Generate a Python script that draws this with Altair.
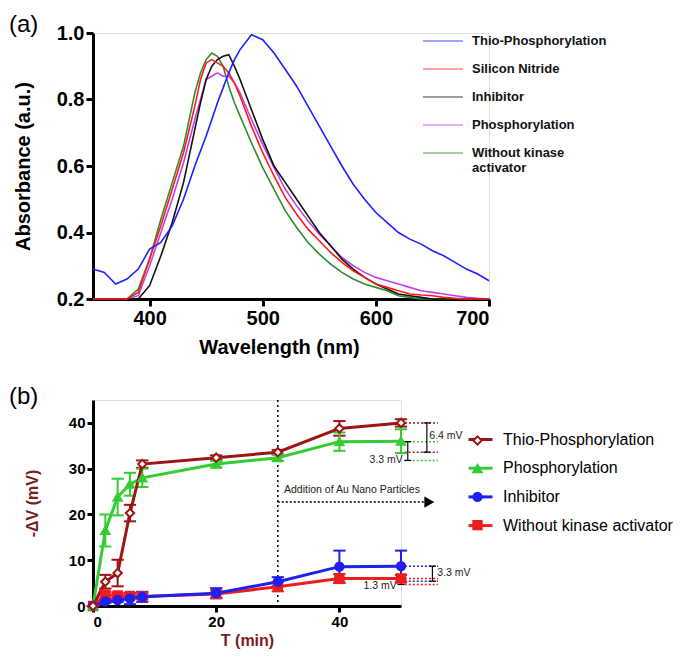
import altair as alt
import pandas as pd

FONT = "Liberation Sans"
TITLE_RED = "#7a1c1c"

# ---------------- panel (a): UV-vis spectra ----------------
wavelength = [350, 360, 370, 380, 390, 400, 410, 420, 430, 440,
              445, 450, 455, 460, 465, 470, 475,
              480, 490, 500, 510, 520, 530, 540, 550, 560, 570, 580, 590,
              600, 610, 620, 630, 640, 650, 660, 670, 680, 690, 700]

abs_thio = [0.29, 0.28, 0.245, 0.26, 0.29, 0.35, 0.37, 0.42, 0.50, 0.60,
            0.645, 0.69, 0.74, 0.79, 0.835, 0.88, 0.92,
            0.95, 0.995, 0.98, 0.94, 0.89, 0.84, 0.78, 0.72, 0.66, 0.60, 0.545, 0.50,
            0.46, 0.43, 0.40, 0.38, 0.365, 0.345, 0.33, 0.31, 0.29, 0.275, 0.255]
abs_sin = [0.2, 0.2, 0.2, 0.2, 0.22, 0.32, 0.42, 0.53, 0.64, 0.78,
           0.86, 0.91, 0.92, 0.91, 0.90, 0.88, 0.85,
           0.81, 0.72, 0.64, 0.57, 0.505, 0.455, 0.41, 0.375, 0.34, 0.31, 0.285, 0.265,
           0.245, 0.235, 0.225, 0.215, 0.212, 0.21, 0.205, 0.202, 0.2, 0.2, 0.2]
abs_inhib = [0.2, 0.2, 0.2, 0.2, 0.2, 0.24, 0.33, 0.43, 0.55, 0.71,
             0.79, 0.86, 0.90, 0.92, 0.93, 0.935, 0.90,
             0.86, 0.77, 0.68, 0.60, 0.55, 0.50, 0.45, 0.40, 0.36, 0.32, 0.29, 0.265,
             0.245, 0.23, 0.215, 0.21, 0.205, 0.2, 0.2, 0.2, 0.2, 0.2, 0.2]
abs_phos = [0.2, 0.2, 0.2, 0.2, 0.21, 0.30, 0.40, 0.50, 0.61, 0.74,
            0.80, 0.86, 0.87, 0.88, 0.87, 0.87, 0.85,
            0.82, 0.74, 0.665, 0.595, 0.53, 0.48, 0.435, 0.395, 0.36, 0.325, 0.30, 0.28,
            0.265, 0.255, 0.245, 0.235, 0.225, 0.22, 0.215, 0.21, 0.205, 0.202, 0.2]
abs_wok = [0.2, 0.2, 0.2, 0.2, 0.23, 0.32, 0.44, 0.55, 0.66, 0.82,
           0.88, 0.92, 0.94, 0.93, 0.90, 0.84, 0.79,
           0.75, 0.67, 0.595, 0.53, 0.465, 0.415, 0.37, 0.335, 0.305, 0.28, 0.26, 0.245,
           0.235, 0.225, 0.21, 0.205, 0.2, 0.2, 0.2, 0.2, 0.2, 0.2, 0.2]

names_a = ["Thio-Phosphorylation", "Silicon Nitride", "Inhibitor",
           "Phosphorylation", "Without kinase activator"]
colors_a = ["#1f1fff", "#ff1a1a", "#111111", "#c040f0", "#2e8b2e"]
series_a = [abs_thio, abs_sin, abs_inhib, abs_phos, abs_wok]

# ---------------- panel (b): potential vs time ----------------
time_min = [0, 2, 4, 6, 8, 20, 30, 40, 50]
dv_thio = [0, 5.3, 7.2, 20.3, 31.0, 32.4, 33.6, 38.8, 40.0]
err_thio = [0, 1.5, 2.9, 1.8, 0.8, 0.5, 0.5, 1.6, 0.8]
dv_phos = [0, 16.5, 23.8, 26.6, 28.0, 31.0, 32.4, 35.9, 36.0]
err_phos = [0, 3.5, 4.0, 2.5, 2.0, 0.7, 0.7, 2.0, 2.6]
dv_inhib = [0, 1.0, 1.3, 1.6, 2.0, 2.8, 5.3, 8.6, 8.7]
err_inhib = [0, 0.3, 0.4, 1.2, 1.1, 1.1, 1.0, 3.5, 3.4]
dv_wok = [0, 2.4, 2.3, 2.2, 2.1, 2.6, 4.2, 6.0, 6.0]
err_wok = [0, 0.7, 0.6, 0.5, 0.6, 0.8, 1.0, 1.0, 0.8]

names_b = ["Thio-Phosphorylation", "Phosphorylation", "Inhibitor", "Without kinase activator"]
marker_keys_b = ["m1", "m2", "m3", "m4"]
colors_b = ["#9e1414", "#33cc33", "#1f1fef", "#ee1d1d"]
shapes_b = ["diamond", "triangle-up", "circle", "square"]
fills_b = ["white", "#33cc33", "#1f1fef", "#ee1d1d"]
vals_b = [dv_thio, dv_phos, dv_inhib, dv_wok]
errs_b = [err_thio, err_phos, err_inhib, err_wok]

# annotations of panel (b)
event_time = [30]
arrow_y = [22.7]
arrow_from = [30]
arrow_to = [53.7]
arrow_head = [54.6]
event_text = ["Addition of Au Nano Particles"]
event_text_pos = [31.0, 25.3]

ref_y = [40.0, 35.9, 33.6, 31.8, 8.7, 5.4, 6.0, 4.7]
ref_from = [50, 50, 50.6, 50.6, 50, 50.6, 50, 50.6]
ref_to = [56, 56, 56, 56, 56, 56, 56, 56]
ref_col = ["#9e1414", "#33cc33", "#9e1414", "#33cc33", "#1f1fef", "#1f1fef", "#ee1d1d", "#ee1d1d"]

br_x = [54.2, 51.1, 55.1, 50.0]
br_lo = [33.6, 31.8, 5.4, 4.7]
br_hi = [40.0, 35.9, 8.7, 6.0]
br_text = ["6.4 mV", "3.3 mV", "3.3 mV", "1.3 mV"]
br_tx = [54.6, 50.3, 55.9, 49.3]
br_ty = [37.2, 31.9, 7.3, 4.4]
br_align = ["left", "right", "left", "right"]


def axis(**kw):
    base = dict(domainColor="black", domainWidth=3, tickColor="black", tickWidth=3,
                tickSize=7, labelFont=FONT, labelFontWeight="bold", labelColor="black",
                titleFont=FONT, titleFontWeight="bold", grid=False, labelPadding=2)
    base.update(kw)
    return alt.Axis(**base)


# ---------- build panel (a) ----------
rows = []
for name, vals in reversed(list(zip(names_a, series_a))):
    for w, v in zip(wavelength, vals):
        rows.append({"sa": name, "wl": w, "A": v})
df_a = pd.DataFrame(rows)

legend_a = alt.Legend(
    title=None, orient="none", legendX=329, legendY=-13,
    symbolType="stroke", symbolSize=1600, symbolStrokeWidth=1.3, symbolOpacity=0.55,
    labelFont=FONT, labelFontSize=13, labelFontWeight="bold", labelColor="#111",
    labelOffset=8, rowPadding=0, labelLimit=400,
    labelExpr="datum.label == 'Without kinase activator' ? ['Without kinase', 'activator'] : datum.label",
)

lines_a = alt.Chart(df_a).mark_line(strokeWidth=1.6).encode(
    x=alt.X("wl:Q", scale=alt.Scale(domain=[350, 700], nice=False, zero=False),
            axis=axis(values=[400, 500, 600, 700], title="Wavelength (nm)", labelFontSize=20,
                      titleFontSize=20, titleX=186, titlePadding=9)),
    y=alt.Y("A:Q", scale=alt.Scale(domain=[0.2, 1.0], nice=False, zero=False),
            axis=axis(values=[0.2, 0.4, 0.6, 0.8, 1.0], format=".1f", title="Absorbance (a.u.)",
                      labelFontSize=20, titleFontSize=20, titlePadding=23)),
    color=alt.Color("sa:N", scale=alt.Scale(domain=names_a, range=colors_a), legend=legend_a),
)

tag_a = alt.Chart(pd.DataFrame({"t": ["(a)"]})).mark_text(
    font=FONT, fontSize=24, align="left", baseline="top", color="black"
).encode(text="t:N", x=alt.value(-84), y=alt.value(-20))

panel_a = alt.layer(lines_a, tag_a).properties(width=396, height=266)

# ---------- build panel (b) ----------
rows = []
for name, key, vals, errs in reversed(list(zip(names_b, marker_keys_b, vals_b, errs_b))):
    for t, v, e in zip(time_min, vals, errs):
        rows.append({"sb": name, "mk": key, "t": t, "v": v, "lo": v - e, "hi": v + e})
df_b = pd.DataFrame(rows)

xs = alt.Scale(domain=[0, 50], nice=False, zero=False)
ys = alt.Scale(domain=[0, 45], nice=False, zero=False)
xb = alt.X("t:Q", scale=xs,
           axis=axis(values=[0, 20, 40], title="T (min)", labelFontSize=15, titleFontSize=16,
                     titleColor=TITLE_RED, tickSize=6, titlePadding=3))
yb = alt.Y("v:Q", scale=ys,
           axis=axis(values=[0, 10, 20, 30, 40], title="-ΔV (mV)", labelFontSize=15,
                     titleFontSize=16, titleColor=TITLE_RED, tickSize=6, titlePadding=28))

leg_line = alt.Legend(title=None, orient="none", legendX=374, legendY=26,
                      symbolType="stroke", symbolSize=576, symbolStrokeWidth=3,
                      labelFont=FONT, labelFontSize=16, labelColor="black",
                      labelOffset=9, rowPadding=6.7, labelLimit=400)
leg_pts = alt.Legend(title=None, orient="none", legendX=374, legendY=35,
                     symbolSize=70, symbolStrokeWidth=2, symbolOffset=5,
                     labelExpr="''", labelFontSize=1, labelOffset=0,
                     rowPadding=11.2, labelLimit=10)

layers_b = []
# error bars
for name, col in zip(names_b, colors_b):
    sub = alt.Chart(df_b).transform_filter(alt.datum.sb == name)
    layers_b.append(sub.mark_rule(strokeWidth=2, color=col).encode(
        x=alt.X("t:Q", scale=xs), y=alt.Y("lo:Q", scale=ys), y2="hi:Q"))
    layers_b.append(sub.mark_point(shape="stroke", size=150, strokeWidth=2, color=col, opacity=1).encode(
        x=alt.X("t:Q", scale=xs), y=alt.Y("lo:Q", scale=ys)))
    layers_b.append(sub.mark_point(shape="stroke", size=150, strokeWidth=2, color=col, opacity=1).encode(
        x=alt.X("t:Q", scale=xs), y=alt.Y("hi:Q", scale=ys)))

lines_b = alt.Chart(df_b).mark_line(strokeWidth=3).encode(
    x=xb, y=yb,
    color=alt.Color("sb:N", scale=alt.Scale(domain=names_b, range=colors_b), legend=leg_line),
)
points_b = alt.Chart(df_b).mark_point(size=70, strokeWidth=2, opacity=1).encode(
    x=alt.X("t:Q", scale=xs), y=alt.Y("v:Q", scale=ys),
    shape=alt.Shape("mk:N", scale=alt.Scale(domain=marker_keys_b, range=shapes_b), legend=leg_pts),
    fill=alt.Fill("mk:N", scale=alt.Scale(domain=marker_keys_b, range=fills_b), legend=leg_pts),
    stroke=alt.Stroke("mk:N", scale=alt.Scale(domain=marker_keys_b, range=colors_b), legend=leg_pts),
)

vline = alt.Chart(pd.DataFrame({"x": event_time})).mark_rule(
    strokeDash=[2, 3], strokeWidth=1.5, color="black"
).encode(x=alt.X("x:Q", scale=xs))

arrow = alt.Chart(pd.DataFrame({"x0": arrow_from, "x1": arrow_to, "y": arrow_y})).mark_rule(
    strokeDash=[2, 2], strokeWidth=1.5, color="black", clip=False
).encode(x=alt.X("x0:Q", scale=xs), x2="x1:Q", y=alt.Y("y:Q", scale=ys))

arrow_tip = alt.Chart(pd.DataFrame({"x": arrow_head, "y": arrow_y})).mark_point(
    shape="triangle-right", filled=True, size=130, color="black", opacity=1, clip=False
).encode(x=alt.X("x:Q", scale=xs), y=alt.Y("y:Q", scale=ys))

event_lbl = alt.Chart(pd.DataFrame({"x": [event_text_pos[0]], "y": [event_text_pos[1]],
                                    "s": event_text})).mark_text(
    font=FONT, fontSize=10.5, align="left", baseline="middle", color="#222"
).encode(x=alt.X("x:Q", scale=xs), y=alt.Y("y:Q", scale=ys), text="s:N")

df_ref = pd.DataFrame({"y": ref_y, "x0": ref_from, "x1": ref_to, "c": ref_col})
ref_layers = []
for col in sorted(set(ref_col)):
    ref_layers.append(
        alt.Chart(df_ref).transform_filter(alt.datum.c == col).mark_rule(
            strokeDash=[2, 2], strokeWidth=1.5, color=col, clip=False
        ).encode(x=alt.X("x0:Q", scale=xs), x2="x1:Q", y=alt.Y("y:Q", scale=ys))
    )

df_br = pd.DataFrame({"x": br_x, "lo": br_lo, "hi": br_hi})
br_rule = alt.Chart(df_br).mark_rule(strokeWidth=1.2, color="black", clip=False).encode(
    x=alt.X("x:Q", scale=xs), y=alt.Y("lo:Q", scale=ys), y2="hi:Q")
br_cap1 = alt.Chart(df_br).mark_point(shape="stroke", size=50, strokeWidth=1.2, color="black",
                                      opacity=1, clip=False).encode(
    x=alt.X("x:Q", scale=xs), y=alt.Y("lo:Q", scale=ys))
br_cap2 = alt.Chart(df_br).mark_point(shape="stroke", size=50, strokeWidth=1.2, color="black",
                                      opacity=1, clip=False).encode(
    x=alt.X("x:Q", scale=xs), y=alt.Y("hi:Q", scale=ys))

df_brt = pd.DataFrame({"x": br_tx, "y": br_ty, "s": br_text, "al": br_align})
br_lbl_layers = []
for al in ["left", "right"]:
    br_lbl_layers.append(
        alt.Chart(df_brt).transform_filter(alt.datum.al == al).mark_text(
            font=FONT, fontSize=10.5, align=al, baseline="middle", color="#222", clip=False
        ).encode(x=alt.X("x:Q", scale=xs), y=alt.Y("y:Q", scale=ys), text="s:N")
    )

tag_b = alt.Chart(pd.DataFrame({"t": ["(b)"]})).mark_text(
    font=FONT, fontSize=24, align="left", baseline="middle", color="black"
).encode(text="t:N", x=alt.value(-84), y=alt.value(-3))

panel_b = alt.layer(
    vline, arrow, arrow_tip, event_lbl, *ref_layers, br_rule, br_cap1, br_cap2,
    *br_lbl_layers, *layers_b, lines_b, points_b, tag_b
).properties(width=308, height=206)

chart = alt.vconcat(panel_a, panel_b, spacing=26).resolve_scale(
    color="independent", shape="independent", fill="independent", stroke="independent"
).properties(
    padding={"left": 0, "right": 0, "top": 4, "bottom": 0}
).configure_view(strokeWidth=0).configure(background="white")

chart.save("out.html", embed_options={"renderer": "svg", "actions": False})
